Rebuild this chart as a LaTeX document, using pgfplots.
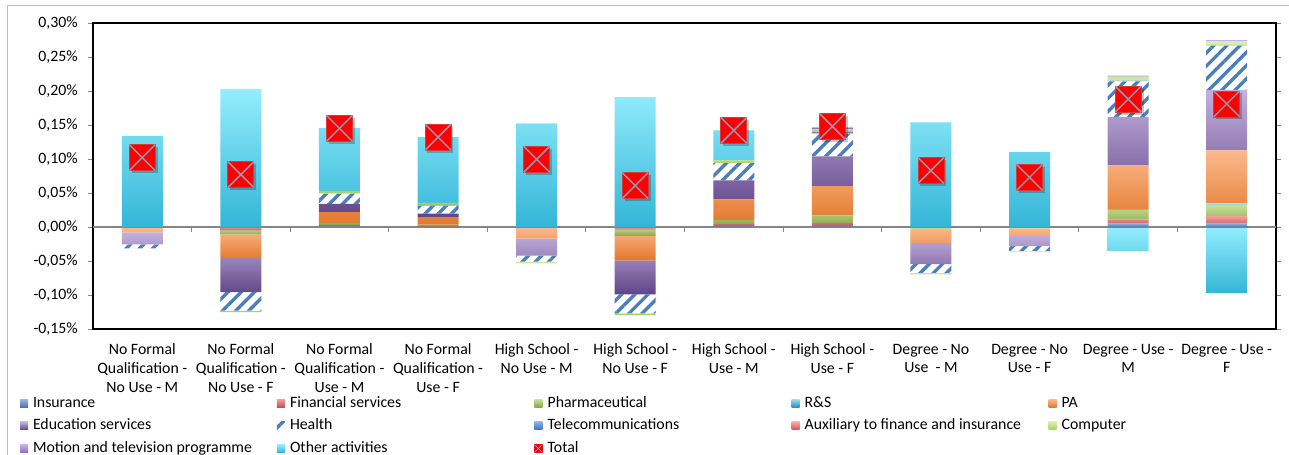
\documentclass[border=0pt]{standalone}
\usepackage{fontspec}
\setmainfont{Carlito}
\usepackage{pgfplots}
\pgfplotsset{compat=1.18}
\usepackage{pgfplotstable}
\usetikzlibrary{patterns.meta}

\newcommand\chartfont{\fontsize{11.85pt}{14.4pt}\selectfont}
\newcommand\catfont{\fontsize{11.85pt}{14pt}\selectfont}

% series colours (top / bottom of the vertical gradient)
\definecolor{insT}{HTML}{9BB7E0}\definecolor{insB}{HTML}{4A72B0}
\definecolor{finT}{HTML}{F2A09E}\definecolor{finB}{HTML}{C0504D}
\definecolor{phaT}{HTML}{C9E09A}\definecolor{phaB}{HTML}{86A844}
\definecolor{rsT}{HTML}{9ADCF2}\definecolor{rsB}{HTML}{2C8FB5}
\definecolor{paT}{HTML}{FCB98D}\definecolor{paB}{HTML}{E3782B}
\definecolor{eduT}{HTML}{C3B1DD}\definecolor{eduB}{HTML}{604488}
\definecolor{heaC}{HTML}{4A7EBB}
\definecolor{telT}{HTML}{8DB3E8}\definecolor{telB}{HTML}{3C6FC0}
\definecolor{auxT}{HTML}{F8A8A8}\definecolor{auxB}{HTML}{D9534F}
\definecolor{comT}{HTML}{D8F0A8}\definecolor{comB}{HTML}{A4D160}
\definecolor{motT}{HTML}{C6B1E6}\definecolor{motB}{HTML}{8D6CC4}
\definecolor{othT}{HTML}{93EEFD}\definecolor{othB}{HTML}{34B5D7}
\definecolor{totX}{HTML}{9C94AC}
\definecolor{totEdge}{HTML}{D83A3A}
\definecolor{zeroC}{HTML}{868686}
\definecolor{frameC}{HTML}{BFBFBF}

% red square with a grey cross for the totals
\pgfdeclareplotmark{totalx}{%
  \pgfsetfillcolor{black}\pgfsetfillopacity{0.22}%
  \pgfpathrectangle{\pgfpoint{-\pgfplotmarksize+1.8pt}{-\pgfplotmarksize-1.8pt}}{\pgfpoint{2\pgfplotmarksize}{2\pgfplotmarksize}}%
  \pgfusepath{fill}%
  \pgfsetfillopacity{1}%
  \pgfsetfillcolor{red}\pgfsetstrokecolor{totEdge}\pgfsetlinewidth{0.6pt}%
  \pgfpathrectangle{\pgfqpoint{-\pgfplotmarksize}{-\pgfplotmarksize}}{\pgfqpoint{2\pgfplotmarksize}{2\pgfplotmarksize}}%
  \pgfusepath{fill,stroke}%
  \pgfsetstrokecolor{totX}\pgfsetlinewidth{1.1pt}%
  \pgfpathmoveto{\pgfqpoint{-\pgfplotmarksize}{-\pgfplotmarksize}}\pgfpathlineto{\pgfqpoint{\pgfplotmarksize}{\pgfplotmarksize}}%
  \pgfpathmoveto{\pgfqpoint{-\pgfplotmarksize}{\pgfplotmarksize}}\pgfpathlineto{\pgfqpoint{\pgfplotmarksize}{-\pgfplotmarksize}}%
  \pgfusepath{stroke}%
}

\pgfplotsset{
  swatch/.style={legend image code/.code={\path[##1] (0pt,-3pt) rectangle (6pt,3pt);}},
  grad/.style 2 args={draw=none, top color=#1, bottom color=#2, swatch},
  s-ins/.style={grad={insT}{insB}},
  s-fin/.style={grad={finT}{finB}},
  s-pha/.style={grad={phaT}{phaB}},
  s-rs/.style={grad={rsT}{rsB}},
  s-pa/.style={grad={paT}{paB}},
  s-edu/.style={grad={eduT}{eduB}},
  s-hea/.style={draw=none, fill=white, postaction={pattern={Lines[angle=45,distance=7pt,line width=2.5pt]}, pattern color=heaC}, swatch},
  s-tel/.style={grad={telT}{telB}},
  s-aux/.style={grad={auxT}{auxB}},
  s-com/.style={grad={comT}{comB}},
  s-mot/.style={grad={motT}{motB}},
  s-oth/.style={grad={othT}{othB}},
  chartbase/.style={scale only axis, width=887.25pt, height=229.5pt,
    at={(69.75pt,93.75pt)}, anchor=south west,
    xmin=-0.5, xmax=11.5, ymin=-0.15, ymax=0.30},
}

% contributions above zero (percentage points)
\pgfplotstableread{
x  ins   fin    pha    rs    pa     edu    hea    tel   aux   com    mot    oth
0  0     0      0      0     0      0      0      0     0     0      0      0.134
1  0     0      0      0     0      0      0      0     0     0      0      0.203
2  0.001 0.002  0.003  0     0.016  0.012  0.015  0     0     0.004  0      0.0926
3  0     0.001  0.0025 0     0.011  0.005  0.012  0.001 0     0.003  0      0.0965
4  0     0      0      0     0      0      0      0     0     0      0      0.1525
5  0     0      0      0     0      0      0      0     0     0      0      0.191
6  0.001 0.0035 0.006  0     0.030  0.028  0.0255 0     0     0.004  0      0.044
7  0.001 0.005  0.011  0     0.043  0.044  0.0333 0.002 0.002 0.003  0.001  0.0018
8  0     0      0      0     0      0      0      0     0     0      0      0.154
9  0     0      0      0     0      0      0      0     0     0      0      0.110
10 0.005 0.006  0.0137 0.001 0.065  0.071  0.0525 0.001 0     0.006  0.0015 0
11 0.006 0.010  0.0167 0.002 0.078  0.089  0.065  0.001 0     0.0055 0.0015 0
}\pospart

% contributions below zero
\pgfplotstableread{
x  ins fin    pha    rs pa      edu     hea    tel aux com     mot oth
0  0   0      0      0  -0.008  -0.0176 -0.006 0   0   0       0   0
1  0   -0.005 -0.006 0  -0.0348 -0.050  -0.027 0   0   -0.0025 0   0
2  0   0      0      0  0       0       0      0   0   0       0   0
3  0   0      0      0  0       0       0      0   0   0       0   0
4  0   -0.002 0      0  -0.015  -0.025  -0.009 0   0   -0.0025 0   0
5  0   -0.004 -0.009 0  -0.036  -0.050  -0.028 0   0   -0.0025 0   0
6  0   0      0      0  0       0       0      0   0   0       0   0
7  0   0      0      0  0       0       0      0   0   0       0   0
8  0   0      -0.003 0  -0.0205 -0.031  -0.013 0   0   -0.002  0   0
9  0   0      -0.002 0  -0.010  -0.016  -0.007 0   0   -0.002  0   0
10 0   0      0      0  0       0       0      0   0   0       0   -0.035
11 0   0      0      0  0       0       0      0   0   0       0   -0.097
}\negpart

\pgfplotstableread{
x  tot
0  0.102
1  0.077
2  0.145
3  0.132
4  0.0995
5  0.061
6  0.142
7  0.148
8  0.083
9  0.073
10 0.188
11 0.181
}\totals

\begin{document}
\begin{tikzpicture}
% outer chart frame
\draw[frameC, line width=0.75pt] (5.25pt,-20pt) -- (5.25pt,336pt) -- (990pt,336pt);

% negative parts, stacked downwards from zero
\begin{axis}[chartbase, hide axis, ybar stacked, bar width=30.75pt]
\addplot[s-ins] table[x=x,y=ins]{\negpart};
\addplot[s-fin] table[x=x,y=fin]{\negpart};
\addplot[s-pha] table[x=x,y=pha]{\negpart};
\addplot[s-rs]  table[x=x,y=rs]{\negpart};
\addplot[s-pa]  table[x=x,y=pa]{\negpart};
\addplot[s-edu] table[x=x,y=edu]{\negpart};
\addplot[s-hea] table[x=x,y=hea]{\negpart};
\addplot[s-tel] table[x=x,y=tel]{\negpart};
\addplot[s-aux] table[x=x,y=aux]{\negpart};
\addplot[s-com] table[x=x,y=com]{\negpart};
\addplot[s-mot] table[x=x,y=mot]{\negpart};
\addplot[s-oth] table[x=x,y=oth]{\negpart};
\end{axis}

% positive parts, axes and legend
\begin{axis}[chartbase, ybar stacked, bar width=30.75pt,
  axis line style={line width=1.2pt, black},
  tick align=outside, major tick length=3.75pt,
  ytick={-0.15,-0.10,-0.05,0,0.05,0.10,0.15,0.20,0.25,0.30},
  ytick style={draw=zeroC, line width=0.75pt},
  yticklabel={\pgfmathprintnumber[fixed,fixed zerofill,precision=2,use comma]{\tick}\%},
  /pgf/number format/assume math mode=true,
  yticklabel style={font=\chartfont, anchor=east, inner sep=0pt, xshift=-7.5pt},
  xtick={0,...,11}, xtick style={draw=none},
  xticklabels={{No Formal\\Qualification -\\No Use - M},{No Formal\\Qualification -\\No Use - F},
    {No Formal\\Qualification -\\Use - M},{No Formal\\Qualification -\\Use - F},
    {High School -\\No Use - M},{High School -\\No Use - F},
    {High School -\\Use - M},{High School -\\Use - F},
    {Degree - No\\Use\ \ - M},{Degree - No\\Use - F},
    {Degree - Use -\\M},{Degree - Use -\\F}},
  xticklabel style={font=\catfont, align=center, anchor=north, inner sep=0pt, yshift=-7.3pt},
  legend columns=5, legend cell align=left,
  legend style={draw=none, fill=none, at={(-0.0617,-0.2185)}, anchor=north west,
    inner sep=0pt, outer sep=0pt, font=\chartfont, column sep=0pt, row sep=6pt,
    nodes={inner sep=0pt, text height=8.5pt, text depth=2.5pt},
    /tikz/every odd column/.append style={column sep=3.75pt}},
]
\addplot[s-ins] table[x=x,y=ins]{\pospart}; \addlegendentry{\makebox[183pt][l]{Insurance}}
\addplot[s-fin] table[x=x,y=fin]{\pospart}; \addlegendentry{\makebox[183pt][l]{Financial services}}
\addplot[s-pha] table[x=x,y=pha]{\pospart}; \addlegendentry{\makebox[183pt][l]{Pharmaceutical}}
\addplot[s-rs]  table[x=x,y=rs]{\pospart};  \addlegendentry{\makebox[183pt][l]{R\&S}}
\addplot[s-pa]  table[x=x,y=pa]{\pospart};  \addlegendentry{\makebox[183pt][l]{PA}}
\addplot[s-edu] table[x=x,y=edu]{\pospart}; \addlegendentry{\makebox[183pt][l]{Education services}}
\addplot[s-hea] table[x=x,y=hea]{\pospart}; \addlegendentry{\makebox[183pt][l]{Health}}
\addplot[s-tel] table[x=x,y=tel]{\pospart}; \addlegendentry{\makebox[183pt][l]{Telecommunications}}
\addplot[s-aux] table[x=x,y=aux]{\pospart}; \addlegendentry{\makebox[183pt][l]{Auxiliary to finance and insurance}}
\addplot[s-com] table[x=x,y=com]{\pospart}; \addlegendentry{\makebox[183pt][l]{Computer}}
\addplot[s-mot] table[x=x,y=mot]{\pospart}; \addlegendentry{\makebox[183pt][l]{Motion and television programme}}
\addplot[s-oth] table[x=x,y=oth]{\pospart}; \addlegendentry{\makebox[183pt][l]{Other activities}}
\addlegendimage{legend image code/.code={%
  \fill[red] (0pt,-3pt) rectangle (6pt,3pt);
  \draw[totX, line width=0.5pt] (0pt,-3pt) -- (6pt,3pt) (0pt,3pt) -- (6pt,-3pt);}}
\addlegendentry{\makebox[183pt][l]{Total}}
% horizontal axis through zero with category separators
\draw[zeroC, line width=1.1pt] (axis cs:-0.5,0) -- (axis cs:11.5,0);
\pgfplotsinvokeforeach{0.5,1.5,...,10.5}{\draw[zeroC, line width=0.75pt] (axis cs:#1,0) -- ++(0pt,-3.75pt);}
\end{axis}

% totals
\begin{axis}[chartbase, hide axis, clip=false]
\addplot[only marks, mark=totalx, mark size=9.75pt] table[x=x,y=tot]{\totals};
\end{axis}

\pgfresetboundingbox
\path[use as bounding box] (0,0) rectangle (966.75pt,340.5pt);
\end{tikzpicture}
\end{document}
